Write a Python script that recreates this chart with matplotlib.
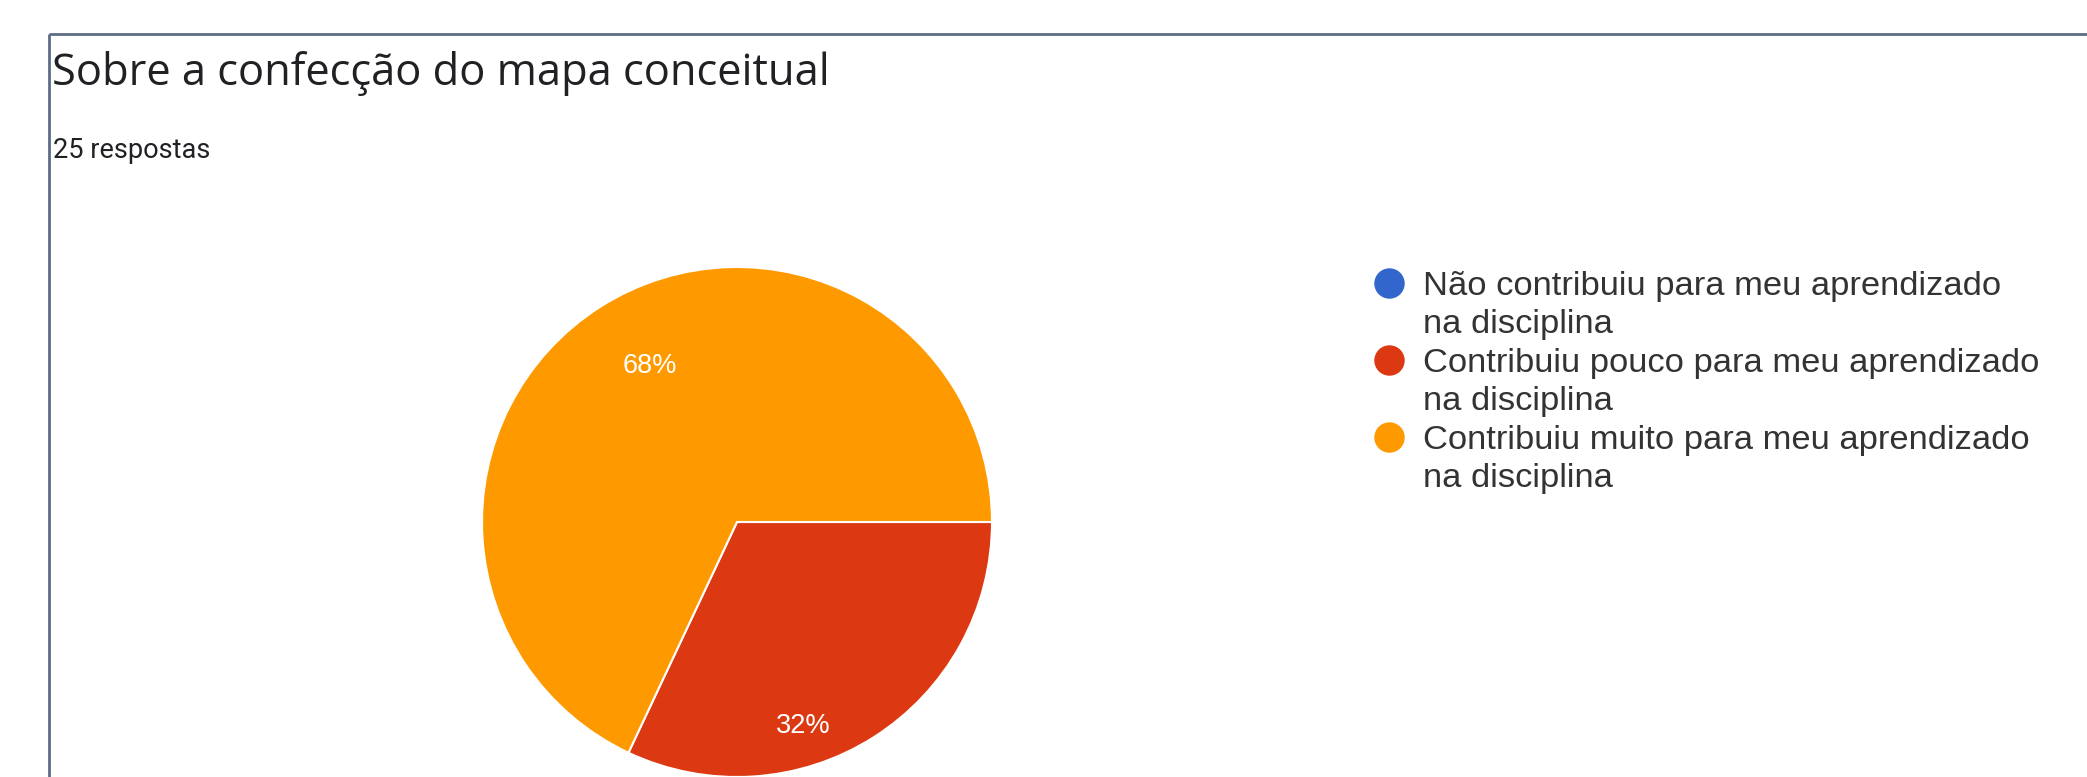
import matplotlib
matplotlib.use("Agg")
import matplotlib.pyplot as plt

# dados
categorias = ["Não contribuiu para meu aprendizado\nna disciplina",
              "Contribuiu pouco para meu aprendizado\nna disciplina",
              "Contribuiu muito para meu aprendizado\nna disciplina"]
respostas = [0, 8, 17]
cores = ["#3366CC", "#DC3912", "#FF9900"]
titulo = "Sobre a confecção do mapa conceitual"
subtitulo = "25 respostas"

W, H = 2087, 777
fig = plt.figure(figsize=(W / 100, H / 100), dpi=100)
fig.patch.set_facecolor("white")

# camada de fundo em pixels para textos, moldura e legenda
bg = fig.add_axes([0, 0, 1, 1])
bg.set_xlim(0, W)
bg.set_ylim(H, 0)
bg.axis("off")

bg.plot([49, W], [34, 34], color="#5d6d85", lw=2, solid_capstyle="butt")
bg.plot([49, 49], [34, H], color="#5d6d85", lw=2, solid_capstyle="butt")

bg.text(52, 85, titulo, fontsize=31.3, family="Open Sans", color="#202124", va="baseline")
bg.text(53, 158, subtitulo, fontsize=19.5, family="Roboto", color="#202124", va="baseline")

# legenda
y0, passo = 283, 77
for i, (lab, cor) in enumerate(zip(categorias, cores)):
    y = y0 + i * passo
    bg.scatter([1389], [y], s=480, color=cor, zorder=3, linewidths=0)
    for j, linha in enumerate(lab.split("\n")):
        bg.text(1423, y + 12 + j * 38, linha, fontsize=24.8, family="Liberation Sans",
                color="#333333", va="baseline")

# pizza
cx, cy, r = 737, 522, 255
ax = fig.add_axes([(cx - r) / W, (H - cy - r) / H, 2 * r / W, 2 * r / H])
total = sum(respostas)
wedges, _ = ax.pie(respostas, colors=cores, startangle=0, counterclock=False,
                   radius=1, wedgeprops=dict(edgecolor="white", linewidth=1.5))
ax.set_xlim(-1, 1)
ax.set_ylim(-1, 1)

# rótulos de porcentagem
pos_rotulos = {1: (0.26, -0.80), 2: (-0.34, 0.61)}
for i, (x, y) in pos_rotulos.items():
    ax.text(x, y, f"{round(100 * respostas[i] / total)}%", color="white",
            fontsize=19.5, family="Liberation Sans", ha="center", va="center")

fig.savefig("out.png", dpi=100)
